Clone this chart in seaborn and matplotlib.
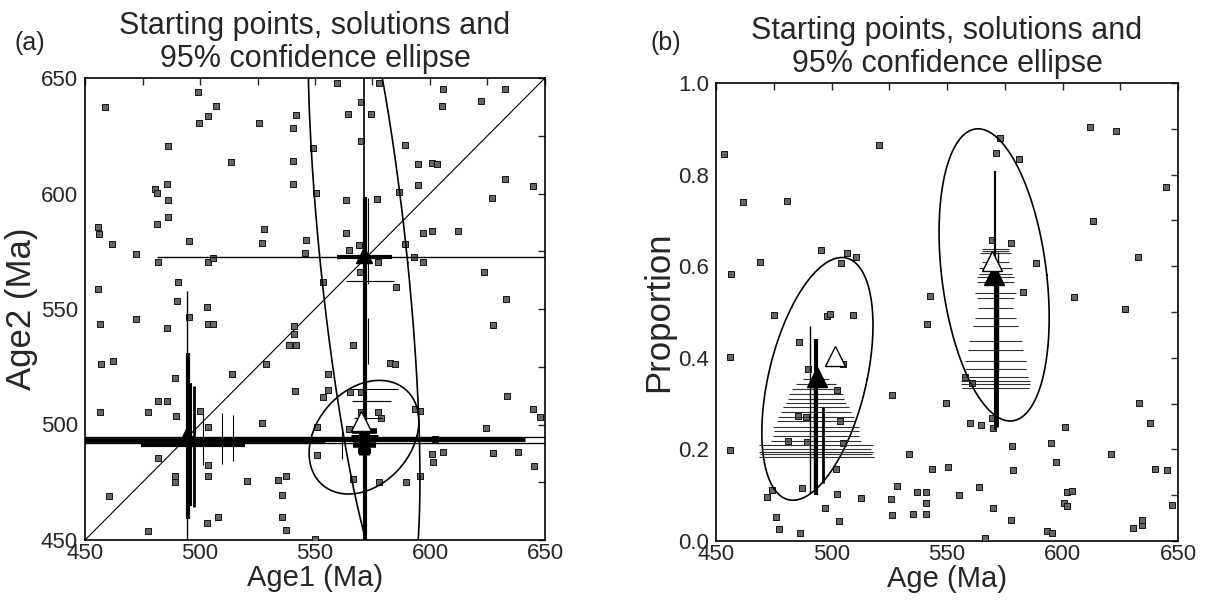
import numpy as np
import matplotlib
matplotlib.use("Agg")
import matplotlib.pyplot as plt
import seaborn as sns
from matplotlib.ticker import MultipleLocator, FormatStrFormatter

sns.set_style("white")
plt.rcParams['font.family'] = ['Liberation Sans', 'DejaVu Sans']

# ---------------- Panel (a): starting points (Age1, Age2) ----------------
a_start_age1 = [458.7, 499.0, 506.8, 503.3, 499.7, 525.8, 541.6, 540.3, 559.4, 578.0, 569.8, 564.5, 574.3,
                605.5, 605.4, 622.0, 632.6, 485.9, 549.0, 570.0, 589.1, 513.5, 540.6, 594.6, 601.0, 602.9,
                632.6, 644.6, 480.4, 481.2, 485.5, 485.9, 540.6, 550.3, 563.5, 577.1, 586.7, 594.6, 626.8,
                485.9, 481.2, 455.8, 456.2, 461.9, 472.2, 481.9, 495.4, 503.3, 505.5, 528.0, 526.8, 545.9,
                545.6, 563.5, 564.9, 569.3, 569.6, 577.5, 589.1, 593.0, 597.1, 596.8, 601.0, 612.0, 623.5,
                585.2, 553.3, 633.0, 455.8, 490.3, 489.9, 502.9, 495.2, 456.5, 472.2, 503.3, 505.5, 541.0,
                627.5, 485.8,
                541.0, 538.9, 541.9, 456.8, 462.0, 489.1, 514.1, 528.5, 566.7, 582.6, 584.8, 555.5, 555.5,
                553.6, 541.3, 565.2, 570.0, 633.3, 481.6, 485.5, 477.2, 456.5, 489.4, 500.0, 503.3, 526.8,
                550.7, 570.0, 577.5, 578.6, 564.9, 593.5, 595.6, 644.9, 647.8, 624.2, 602.2, 481.6, 503.6,
                550.7, 600.7, 605.8, 601.5, 627.5, 638.1, 645.4, 489.3, 489.3, 503.3, 520.3, 534.1, 537.4,
                566.7, 578.0, 589.4, 595.6, 460.6, 535.5, 507.7, 502.9, 535.5, 477.5, 537.2, 550.0]
a_start_age2 = [637.6, 644.1, 637.9, 633.7, 630.4, 630.7, 634.0, 628.5, 647.7, 647.7, 639.8, 634.3, 634.3,
                645.1, 638.0, 640.0, 645.1, 620.6, 619.9, 622.8, 621.2, 613.6, 613.9, 612.7, 613.1, 612.7,
                606.4, 603.1, 602.1, 600.2, 604.1, 597.3, 604.2, 600.2, 597.3, 597.6, 600.6, 603.8, 598.0,
                589.7, 586.8, 585.4, 582.5, 578.3, 573.8, 570.2, 579.6, 570.4, 572.1, 584.8, 578.6, 579.7,
                574.3, 582.9, 575.4, 577.6, 566.1, 570.4, 578.2, 572.5, 570.4, 582.9, 583.6, 583.6, 566.1,
                559.4, 561.7, 554.4, 558.7, 561.6, 553.4, 550.9, 546.6, 543.3, 545.8, 543.7, 543.7, 542.6,
                542.9, 541.9,
                539.0, 534.3, 534.3, 526.4, 527.5, 520.3, 521.7, 526.4, 534.4, 526.8, 526.3, 522.0, 514.8,
                512.0, 514.5, 514.1, 514.1, 512.4, 510.2, 510.2, 505.2, 505.6, 503.5, 505.9, 499.1, 500.6,
                499.1, 505.5, 505.2, 502.6, 498.0, 506.6, 505.9, 506.6, 503.3, 498.3, 493.7, 485.5, 482.6,
                486.8, 487.2, 488.2, 483.6, 487.5, 488.3, 481.9, 477.8, 475.2, 477.5, 475.4, 476.1, 477.8,
                476.4, 474.9, 474.9, 477.8, 469.2, 469.5, 459.8, 457.2, 460.1, 454.0, 454.4, 450.5]

# Solutions (a)
a_sol_age1 = [494.5, 571.5]
a_sol_age2 = [495.5, 573.5]
a_open_age1 = [570.0]
a_open_age2 = [501.5]

# Error bars (a): horizontal (centre x, centre y, half-width)
a_h_x = [494.5, 494.5, 494.5, 571.5, 497.0, 571.5, 571.5, 574.0, 576.0, 574.5, 573.0, 571.5, 571.5, 571.5, 571.5]
a_h_y = [494.8, 491.9, 493.5, 493.8, 491.0, 572.5, 572.5, 562.0, 515.2, 510.0, 502.7, 497.0, 494.0, 491.0, 488.5]
a_h_err = [200, 200, 60, 70, 22.5, 90, 12, 10.5, 10, 8.5, 6, 5.5, 6, 5, 3]
a_h_lw = [1.0, 1.0, 3.5, 3.5, 3.0, 1.0, 3.0, 0.8, 0.8, 0.8, 0.8, 4, 5, 4, 4]
# Error bars (a): vertical (centre x, centre y, half-height)
a_v_x = [494.3, 494.8, 496.2, 497.3, 501.4, 509.6, 514.3, 571.5, 571.7, 573.2, 573.2, 561.7, 571.5]
a_v_y = [504.0, 495.0, 491.5, 490.4, 493.5, 494.0, 494.0, 573.5, 493.5, 579.5, 536.0, 492.0, 492.0]
a_v_err = [54, 36, 26.6, 26.3, 11, 11, 10, 80, 105, 18.5, 10, 7, 5]
a_v_lw = [1.0, 3.0, 1.5, 2.0, 0.8, 0.8, 0.8, 1.2, 3.0, 0.8, 0.8, 0.8, 8]

# Confidence ellipses (a): centre, vertical half-extent, top x-shift, half-width
a_ell_cx = [571.3, 571.3]
a_ell_cy = [570.0, 494.5]
a_ell_h = [150.0, 24.6]
a_ell_shift = [-15.2, 6.7]
a_ell_w = [19.0, 22.9]

# ---------------- Panel (b): starting points (Age, Proportion) ----------------
b_start_age = [453.5, 461.5, 480.9, 520.7, 611.9, 623.2, 573.0, 571.2, 581.3, 644.7, 613.3, 495.3, 506.6,
               510.6, 504.0, 469.1, 456.3, 569.3, 577.6, 588.4, 632.8, 582.8, 605.0, 542.6, 627.1, 475.1,
               497.9, 499.4, 509.5, 541.2,
               456.1, 486.1, 504.8, 490.0, 502.5, 526.3, 549.4, 557.8, 560.7, 560.0, 564.7, 569.5, 570.1,
               601.1, 633.1, 637.9, 485.6, 488.9, 503.7, 481.3, 489.2, 504.8, 456.1, 533.7, 578.0, 594.9,
               597.2, 621.0, 501.9, 543.4, 550.3, 578.7, 640.0, 645.1, 528.2, 487.1, 474.1, 472.2, 502.2,
               512.8, 525.8, 536.9, 540.8, 540.9, 555.3, 564.0, 601.8, 604.3, 600.8, 601.8, 647.3, 497.2,
               569.8, 476.0, 503.4, 526.3, 535.4, 540.8, 577.6, 477.3, 486.4, 593.4, 595.6, 630.7, 634.3,
               634.3, 566.5]
b_start_prop = [0.846, 0.740, 0.743, 0.864, 0.903, 0.895, 0.880, 0.848, 0.835, 0.772, 0.698, 0.635, 0.629,
                0.619, 0.607, 0.610, 0.584, 0.658, 0.651, 0.607, 0.619, 0.543, 0.532, 0.536, 0.506, 0.493,
                0.492, 0.496, 0.494, 0.473,
                0.402, 0.435, 0.387, 0.375, 0.330, 0.319, 0.301, 0.359, 0.346, 0.258, 0.254, 0.268, 0.247,
                0.249, 0.301, 0.258, 0.273, 0.271, 0.262, 0.219, 0.216, 0.215, 0.198, 0.191, 0.208, 0.213,
                0.172, 0.190, 0.157, 0.157, 0.161, 0.155, 0.157, 0.154, 0.119, 0.115, 0.112, 0.097, 0.102,
                0.094, 0.092, 0.107, 0.107, 0.083, 0.101, 0.118, 0.107, 0.110, 0.083, 0.077, 0.079, 0.071,
                0.072, 0.053, 0.043, 0.056, 0.058, 0.060, 0.045, 0.027, 0.017, 0.022, 0.018, 0.029, 0.036,
                0.045, 0.006]

# Solutions (b)
b_sol_age = [493.6, 570.5]
b_sol_prop = [0.357, 0.580]
b_open_age = [501.6, 569.5]
b_open_prop = [0.405, 0.612]

# Horizontal error bars (b): proportions and age half-widths, for the two groups
b_h1_centre = 493.3
b_h1_prop = [0.354, 0.343, 0.332, 0.320, 0.310, 0.301, 0.292, 0.281, 0.271, 0.262, 0.250, 0.240, 0.230,
             0.219, 0.209, 0.200, 0.195, 0.190, 0.183]
b_h1_err = [5.8, 8.7, 10.5, 11.5, 12.3, 13.0, 14.4, 15.2, 16.6, 17.0, 18.8, 18.4, 18.8, 19.5, 24.5, 23.8,
            24.5, 24.2, 24.9]
b_h2_centre = 571.0
b_h2_prop = [0.638, 0.633, 0.628, 0.610, 0.595, 0.584, 0.577, 0.566, 0.541, 0.530, 0.509, 0.487, 0.469,
             0.437, 0.418, 0.393, 0.375, 0.359, 0.350, 0.343, 0.334]
b_h2_err = [5.8, 5.8, 6.6, 6.0, 7.2, 7.2, 8.0, 8.0, 8.7, 8.0, 7.6, 8.7, 9.7, 11.5, 11.9, 13.0, 13.3, 14.0,
            14.8, 14.8, 14.4]
# Vertical error bars (b)
b_v_x = [490.7, 493.5, 492.3, 496.5, 570.8, 571.0, 572.2]
b_v_y = [0.287, 0.270, 0.240, 0.209, 0.525, 0.415, 0.500]
b_v_err = [0.183, 0.170, 0.130, 0.083, 0.283, 0.165, 0.130]
b_v_lw = [1.0, 3.0, 1.0, 2.0, 1.5, 3.5, 1.0]

# Confidence ellipses (b)
b_ell_cx = [493.9, 570.4]
b_ell_cy = [0.354, 0.581]
b_ell_h = [0.265, 0.319]
b_ell_shift = [10.6, -6.95]
b_ell_w = [21.6, 22.8]

TITLE = "Starting points, solutions and\n95% confidence ellipse"


def ellipse_xy(cx, cy, h, shift, w, n=600):
    t = np.linspace(0, 2 * np.pi, n)
    return cx + shift * np.sin(t) + w * np.cos(t), cy + h * np.sin(t)


fig = plt.figure(figsize=(12.05, 6.0), dpi=100)
fig.patch.set_facecolor("white")
ax_a = fig.add_axes([85 / 1205, 1 - 540 / 600, 460 / 1205, 462 / 600])
ax_b = fig.add_axes([716 / 1205, 1 - 541 / 600, 462 / 1205, 458 / 600])

sq_kw = dict(marker='s', s=18, color='#666666', edgecolor='#151515', linewidth=0.7, legend=False, zorder=3)

# ---- panel a ----
ax = ax_a
ax.plot([450, 650], [450, 650], color='black', lw=0.8, zorder=2)
sns.scatterplot(x=a_start_age1, y=a_start_age2, ax=ax, **sq_kw)
for cx, cy, h, sh, w in zip(a_ell_cx, a_ell_cy, a_ell_h, a_ell_shift, a_ell_w):
    ex, ey = ellipse_xy(cx, cy, h, sh, w)
    ax.plot(ex, ey, color='black', lw=1.2, zorder=4)
for x, y, e, lw in zip(a_h_x, a_h_y, a_h_err, a_h_lw):
    ax.errorbar([x], [y], xerr=[e], fmt='none', ecolor='black', elinewidth=lw, capsize=0, zorder=5)
for x, y, e, lw in zip(a_v_x, a_v_y, a_v_err, a_v_lw):
    ax.errorbar([x], [y], yerr=[e], fmt='none', ecolor='black', elinewidth=lw, capsize=0, zorder=5)
ax.plot(a_sol_age1, a_sol_age2, ls='none', marker='^', ms=12, color='black', zorder=6)
ax.plot(a_open_age1, a_open_age2, ls='none', marker='^', ms=15, mfc='white', mec='black', mew=1.0, zorder=7)
ax.set_xlim(450, 650)
ax.set_ylim(450, 650)
ax.xaxis.set_major_locator(MultipleLocator(50))
ax.yaxis.set_major_locator(MultipleLocator(50))
ax.xaxis.set_minor_locator(MultipleLocator(25))
ax.yaxis.set_minor_locator(MultipleLocator(25))
ax.set_xlabel("Age1 (Ma)", fontsize=21, labelpad=0)
ax.set_ylabel("Age2 (Ma)", fontsize=25, labelpad=2)

# ---- panel b ----
ax = ax_b
sns.scatterplot(x=b_start_age, y=b_start_prop, ax=ax, **sq_kw)
for cx, cy, h, sh, w in zip(b_ell_cx, b_ell_cy, b_ell_h, b_ell_shift, b_ell_w):
    ex, ey = ellipse_xy(cx, cy, h, sh, w)
    ax.plot(ex, ey, color='black', lw=1.2, zorder=4)
ax.errorbar([b_h1_centre] * len(b_h1_prop), b_h1_prop, xerr=b_h1_err, fmt='none', ecolor='#333333',
            elinewidth=0.8, capsize=0, zorder=5)
ax.errorbar([b_h2_centre] * len(b_h2_prop), b_h2_prop, xerr=b_h2_err, fmt='none', ecolor='#333333',
            elinewidth=0.8, capsize=0, zorder=5)
for x, y, e, lw in zip(b_v_x, b_v_y, b_v_err, b_v_lw):
    ax.errorbar([x], [y], yerr=[e], fmt='none', ecolor='black', elinewidth=lw, capsize=0, zorder=5)
ax.plot(b_sol_age, b_sol_prop, ls='none', marker='^', ms=14, color='black', zorder=6)
ax.plot(b_open_age, b_open_prop, ls='none', marker='^', ms=15, mfc='white', mec='black', mew=1.0, zorder=7)
ax.set_xlim(450, 650)
ax.set_ylim(0, 1)
ax.xaxis.set_major_locator(MultipleLocator(50))
ax.xaxis.set_minor_locator(MultipleLocator(25))
ax.yaxis.set_major_locator(MultipleLocator(0.2))
ax.yaxis.set_minor_locator(MultipleLocator(0.1))
ax.yaxis.set_major_formatter(FormatStrFormatter('%.1f'))
ax.set_xlabel("Age (Ma)", fontsize=21, labelpad=0)
ax.set_ylabel("Proportion", fontsize=25, labelpad=2)

for ax in (ax_a, ax_b):
    ax.set_title(TITLE, fontsize=22, pad=8, linespacing=1.12)
    ax.tick_params(which='both', direction='in', top=True, right=True, width=1, labelsize=16)
    ax.tick_params(axis='x', which='both', pad=2)
    ax.tick_params(axis='y', which='both', pad=5)
    ax.tick_params(which='major', length=5)
    ax.tick_params(which='minor', length=5)
    for s in ax.spines.values():
        s.set_linewidth(1.2)
        s.set_color('black')

fig.text(15 / 1205, 1 - 43 / 600, "(a)", fontsize=18, va='center', ha='left')
fig.text(650 / 1205, 1 - 43 / 600, "(b)", fontsize=18, va='center', ha='left')

fig.savefig("out.png", dpi=100, facecolor="white")
